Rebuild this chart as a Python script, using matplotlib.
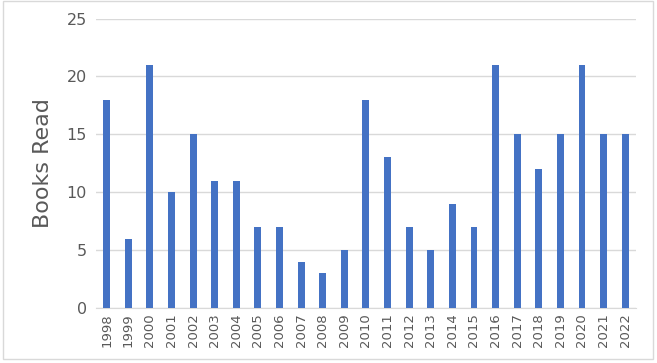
import matplotlib.pyplot as plt
import numpy as np
from matplotlib.patches import Rectangle

years = [str(y) for y in range(1998, 2023)]
books = [18, 6, 21, 10, 15, 11, 11, 7, 7, 4, 3, 5, 18, 13, 7, 5, 9, 7, 21, 15, 12, 15, 21, 15, 15]

fig = plt.figure(figsize=(6.57, 3.63), dpi=100)
fig.patch.set_facecolor('white')
# chart area border
fig.patches.append(Rectangle((0.004, 0.012), 0.99, 0.985, transform=fig.transFigure,
                             fill=False, edgecolor='#d9d9d9', linewidth=1.0))

ax = fig.add_axes([0.146, 0.1515, 0.822, 0.7975])
x = np.arange(len(years))
ax.bar(x, books, width=0.32, color='#4472C4', zorder=3)

ax.set_xlim(-0.5, len(years) - 0.5)
ax.set_ylim(0, 25)
ax.set_yticks(range(0, 26, 5))
ax.set_xticks(x)
ax.set_xticklabels(years, rotation=90, fontsize=9.5, color='#595959')
ax.tick_params(axis='y', labelsize=11.5, labelcolor='#595959', length=0, pad=6.5)
ax.tick_params(axis='x', length=0, pad=4)
ax.grid(axis='y', color='#d9d9d9', linewidth=1.0, zorder=0)
for s in ['top', 'right', 'left']:
    ax.spines[s].set_visible(False)
ax.spines['bottom'].set_color('#d9d9d9')
ax.set_ylabel('Books Read', fontsize=16, color='#595959', labelpad=10)

fig.savefig('out.png', dpi=100)
